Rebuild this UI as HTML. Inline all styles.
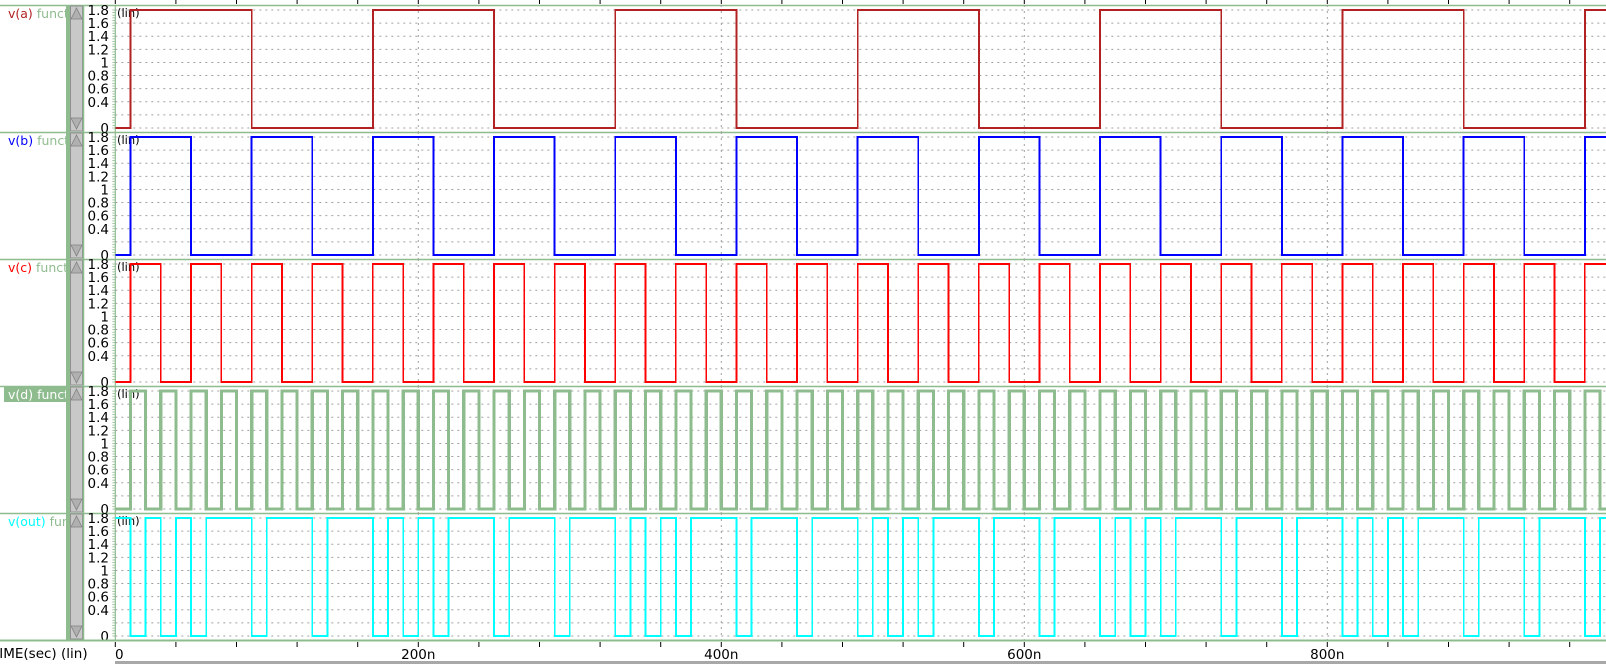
<!DOCTYPE html>
<html><head><meta charset="utf-8"><style>
html,body{margin:0;padding:0;background:#fff;overflow:hidden}
svg{display:block;font-family:"DejaVu Sans","Liberation Sans",sans-serif}
</style></head><body>
<svg id="chart" width="1606" height="664" viewBox="0 0 1606 664"></svg>
<script>
// ---- data (times in ns, voltages in V) ----
const signalNames = ["v(a)", "v(b)", "v(c)", "v(d)", "v(out)"];
const aInit = 0;
const aEdges = [10,90,170,250,330,410,490,570,650,730,810,890,970];
const bInit = 0;
const bEdges = [10,50,90,130,170,210,250,290,330,370,410,450,490,530,570,610,650,690,730,770,810,850,890,930,970];
const cInit = 0;
const cEdges = [10,30,50,70,90,110,130,150,170,190,210,230,250,270,290,310,330,350,370,390,410,430,450,470,490,510,530,550,570,590,610,630,650,670,690,710,730,750,770,790,810,830,850,870,890,910,930,950,970];
const dInit = 0;
const dEdges = [10,20,30,40,50,60,70,80,90,100,110,120,130,140,150,160,170,180,190,200,210,220,230,240,250,260,270,280,290,300,310,320,330,340,350,360,370,380,390,400,410,420,430,440,450,460,470,480,490,500,510,520,530,540,550,560,570,580,590,600,610,620,630,640,650,660,670,680,690,700,710,720,730,740,750,760,770,780,790,800,810,820,830,840,850,860,870,880,890,900,910,920,930,940,950,960,970,980];
const outInit = 1.8;
const outEdges = [10,20,30,40,50,60,90,100,130,140,170,180,190,200,210,220,250,260,290,300,330,340,350,360,370,380,410,420,450,460,490,500,510,520,530,540,570,580,610,620,650,660,670,680,690,700,730,740,770,780,810,820,830,840,850,860,890,900,930,940,970,980];
const highLevel = 1.8;
const yTickValues = [1.8,1.6,1.4,1.2,1,0.8,0.6,0.4,0];
const yTickLabels = ["1.8","1.6","1.4","1.2","1","0.8","0.6","0.4","0"];
const yGridValues = [1.8,1.6,1.4,1.2,1,0.8,0.6,0.4,0.2,0];
const xTickValues = [0,200,400,600,800];
const xTickLabels = ["0","200n","400n","600n","800n"];
const tMax = 984;

// ---- layout ----
const NS = "http://www.w3.org/2000/svg";
const svg = document.getElementById("chart");
const X0 = 115.3, PXNS = 1.515;
const panelTops = [5,132,259,386,513];
const PH = 127;
const colors = ["#b22222","#0000ff","#ff0000","#8fbc8f","#00ffff"];
const widths = [1.8,1.9,1.7,3.2,1.8];
const green = "#8fbc8f";
function xS(t){return X0 + t*PXNS;}
function yS(p,v){return panelTops[p] + 123 - v*(118/1.8);}
function mk(tag, attrs, parent){
  const e = document.createElementNS(NS, tag);
  for (const k in attrs) e.setAttribute(k, attrs[k]);
  (parent||svg).appendChild(e);
  return e;
}

for (let t=0; t<=tMax; t+=40){
  const tk = mk("line",{x1:xS(t),x2:xS(t),y1:0,y2:4,stroke:"#000","stroke-width":1});
  
  
}

const series = [[aInit,aEdges],[bInit,bEdges],[cInit,cEdges],[dInit,dEdges],[outInit,outEdges]];

for (let p=0; p<5; p++){
  const T = panelTops[p];
  const g = mk("g",{});
  
  
  const sep = mk("line",{x1:0,x2:1606,y1:T+0.5,y2:T+0.5,stroke:green,"stroke-width":1.5},g);
  
  
  if (p===3){
    const bg = mk("rect",{x:4,y:T+1,width:62,height:15,fill:green},g);
    
    
  }
  const lab = mk("text",{x:8,y:T+13,"font-size":12.5},g);
  
  
  const s1 = mk("tspan",{fill: p===3 ? "#fff" : colors[p]},lab);
  s1.textContent = signalNames[p];
  const s2 = mk("tspan",{fill: p===3 ? "#fff" : green},lab);
  s2.textContent = p===4 ? " fun" : " funct";
  const gc = mk("rect",{x:66,y:T,width:4,height:PH,fill:green},g);
  
  
  const sb = mk("rect",{x:70.5,y:T+1,width:12,height:PH-2,fill:"#c8c8c8",stroke:"#909090","stroke-width":1},g);
  
  
  const up = mk("path",{d:`M71 ${T+14} L76.5 ${T+3} L82 ${T+14} Z`,fill:"#b0b0b0",stroke:"#808080","stroke-width":0.8},g);
  
  
  const dn = mk("path",{d:`M71 ${T+PH-14} L76.5 ${T+PH-3} L82 ${T+PH-14} Z`,fill:"#b0b0b0",stroke:"#808080","stroke-width":0.8},g);
  
  
  mk("line",{x1:83.5,x2:83.5,y1:T,y2:T+PH,stroke:green,"stroke-width":1.5},g);
  mk("line",{x1:X0,x2:X0,y1:T,y2:T+PH,stroke:green,"stroke-width":1.2},g);
  for (let v=0; v<=1.84; v+=0.04){
    const mt = mk("line",{x1:X0-3,x2:X0,y1:yS(p,v),y2:yS(p,v),stroke:green,"stroke-width":0.8},g);
    
    
  }
  yGridValues.forEach(v=>{
    const gl = mk("line",{x1:X0,x2:1606,y1:yS(p,v),y2:yS(p,v),stroke:"#a0a0a0","stroke-width":1,"stroke-dasharray":"2,4"},g);
    
    
  });
  xTickValues.forEach(t=>{
    if (t===0) return;
    const vl = mk("line",{x1:xS(t),x2:xS(t),y1:T,y2:T+PH,stroke:"#a0a0a0","stroke-width":1,"stroke-dasharray":"2,4"},g);
    
    
  });
  yTickValues.forEach((v,i)=>{
    const tl = mk("text",{x:109,y:yS(p,v)+5,"font-size":13.5,"text-anchor":"end",fill:"#000"},g);
    
    
    tl.textContent = yTickLabels[i];
  });
  const lin = mk("text",{x:117,y:T+12,"font-size":11.5,fill:"#000"},g);
  
  
  lin.textContent = "(lin)";
  const [init, edges] = series[p];
  let lvl = init;
  let d = `M${xS(0)} ${yS(p,lvl)}`;
  edges.forEach(t=>{
    if (t>tMax) return;
    lvl = (lvl > 0.9) ? 0 : highLevel;
    d += ` H${xS(t)} V${yS(p,lvl)}`;
  });
  d += ` H${xS(tMax)+5}`;
  const w = mk("path",{d:d,fill:"none",stroke:colors[p],"stroke-width":widths[p],"shape-rendering":"crispEdges"},g);
  
  
}

const ax = mk("line",{x1:0,x2:1606,y1:640.5,y2:640.5,stroke:green,"stroke-width":2});


for (let t=0; t<=tMax; t+=40){
  const tk = mk("line",{x1:xS(t),x2:xS(t),y1:642,y2:647,stroke:"#000","stroke-width":1});
  
  
}
xTickValues.forEach((t,i)=>{
  const tl = mk("text",{x:xS(t)+(t===0?4:0),y:659,"font-size":13.5,"text-anchor":"middle",fill:"#000"});
  
  
  tl.textContent = xTickLabels[i];
});
const xt = mk("text",{x:-9,y:658,"font-size":13.5,fill:"#000"});


xt.textContent = "TIME(sec) (lin)";
const gb = mk("rect",{x:115,y:661,width:1491,height:3,fill:"#a8a8a8"});


</script>
</body></html>
